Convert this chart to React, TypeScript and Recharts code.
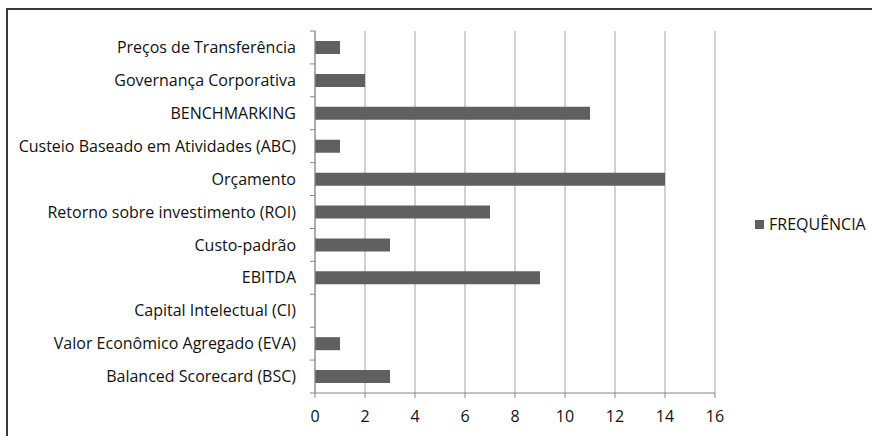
import React from 'react';
import { BarChart, Bar, XAxis, YAxis, CartesianGrid, Legend } from 'recharts';

const categories = [
  'Preços de Transferência',
  'Governança Corporativa',
  'BENCHMARKING',
  'Custeio Baseado em Atividades (ABC)',
  'Orçamento',
  'Retorno sobre investimento (ROI)',
  'Custo-padrão',
  'EBITDA',
  'Capital Intelectual (CI)',
  'Valor Econômico Agregado (EVA)',
  'Balanced Scorecard (BSC)',
];
const frequencia = [1, 2, 11, 1, 14, 7, 3, 9, 0, 1, 3];
const xTicks = [0, 2, 4, 6, 8, 10, 12, 14, 16];

const data = categories.map((name, i) => ({ name, value: frequencia[i] }));

const WIDTH = 872;
const HEIGHT = 436;
const MARGIN = { top: 31, right: 157, bottom: 13, left: 0 };
const Y_AXIS_W = 315;
const X_AXIS_H = 30;
const BAND = (HEIGHT - MARGIN.top - MARGIN.bottom - X_AXIS_H) / categories.length;

const FONT = '"Open Sans", sans-serif';
const FONT_SIZE = 16;
const BAR_COLOR = '#606060';
const AXIS_COLOR = '#878787';
const GRID_COLOR = '#a3a3a3';
const TICK_SIZE = 5;
const TICK_MARGIN = 14;

// category label plus the small tick marks that sit between bands
const CategoryTick = (props: any) => {
  const { x, y, payload, index } = props;
  const axisX = x + TICK_SIZE + TICK_MARGIN;
  const last = index === categories.length - 1;
  return (
    <g>
      <line x1={axisX - TICK_SIZE} x2={axisX} y1={y - BAND / 2} y2={y - BAND / 2} stroke={AXIS_COLOR} />
      {last && (
        <line x1={axisX - TICK_SIZE} x2={axisX} y1={y + BAND / 2} y2={y + BAND / 2} stroke={AXIS_COLOR} />
      )}
      <text x={x} y={y} dy="0.35em" textAnchor="end" fill="#111" fontFamily={FONT} fontSize={FONT_SIZE}>
        {payload.value}
      </text>
    </g>
  );
};

const renderLegend = (props: any) => {
  const { payload } = props;
  return (
    <div style={{ fontFamily: FONT, fontSize: FONT_SIZE, color: '#111' }}>
      {(payload || []).map((entry: any) => (
        <div key={entry.value} style={{ display: 'flex', alignItems: 'center' }}>
          <span style={{ display: 'inline-block', width: 9, height: 9, background: entry.color, marginRight: 5 }} />
          <span>{entry.value}</span>
        </div>
      ))}
    </div>
  );
};

export default function App() {
  return (
    <div style={{ position: 'fixed', left: 0, top: 0, width: WIDTH, height: HEIGHT, background: '#fff', overflow: 'hidden' }}>
      <div
        style={{
          position: 'absolute',
          left: 6,
          top: 8,
          width: WIDTH + 20,
          height: HEIGHT + 20,
          borderLeft: '2px solid #3a3a3a',
          borderTop: '2px solid #3a3a3a',
        }}
      />
      <div style={{ position: 'absolute', left: 0, top: 0 }}>
        <BarChart width={WIDTH} height={HEIGHT} data={data} layout="vertical" margin={MARGIN} barSize={13}>
          <CartesianGrid horizontal={false} stroke={GRID_COLOR} />
          <XAxis
            type="number"
            domain={[0, 16]}
            ticks={xTicks}
            interval={0}
            height={X_AXIS_H}
            stroke={AXIS_COLOR}
            tickSize={TICK_SIZE}
            tickMargin={13}
            tick={{ fill: '#111', fontFamily: FONT, fontSize: FONT_SIZE }}
          />
          <YAxis
            type="category"
            dataKey="name"
            width={Y_AXIS_W}
            interval={0}
            stroke={AXIS_COLOR}
            tickLine={false}
            tickSize={TICK_SIZE}
            tickMargin={TICK_MARGIN}
            tick={<CategoryTick />}
          />
          <Legend
            align="center"
            verticalAlign="middle"
            content={renderLegend}
            wrapperStyle={{ left: 755, top: 213, width: 'auto' }}
          />
          <Bar dataKey="value" name="FREQUÊNCIA" fill={BAR_COLOR} isAnimationActive={false} />
        </BarChart>
      </div>
    </div>
  );
}
